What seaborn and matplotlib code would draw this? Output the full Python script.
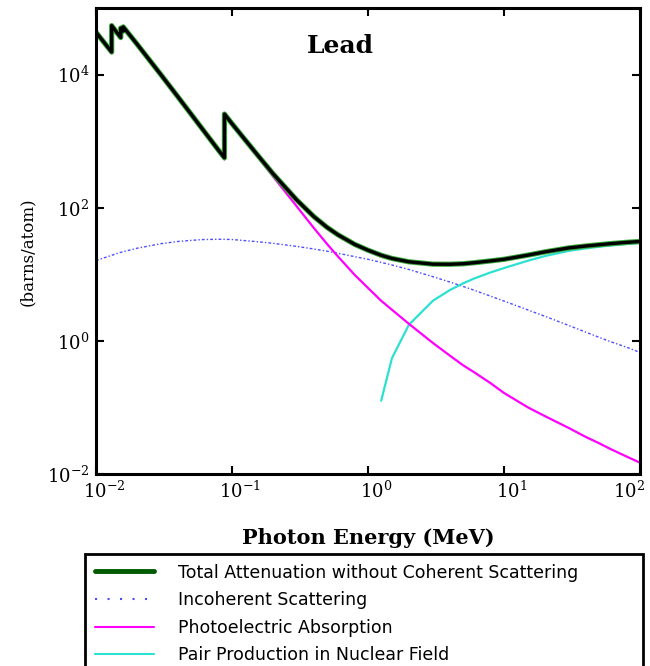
import matplotlib
matplotlib.use('Agg')
import matplotlib.pyplot as plt
import seaborn as sns
import pandas as pd
from matplotlib.lines import Line2D
from matplotlib.ticker import NullLocator
from matplotlib.transforms import ScaledTranslation

# ---------------- data (barns/atom vs photon energy in MeV) ----------------
energy_main = [0.010, 0.013035, 0.013035, 0.015, 0.0152, 0.0152, 0.01586, 0.01586,
               0.020, 0.030, 0.040, 0.050, 0.060, 0.080, 0.088, 0.088, 0.100, 0.150,
               0.200, 0.300, 0.400, 0.500, 0.600, 0.800, 1.0, 1.25, 1.5, 2.0, 3.0,
               4.0, 5.0, 6.0, 8.0, 10.0, 15.0, 20.0, 30.0, 40.0, 50.0, 60.0, 80.0, 100.0]
photoelectric = [4.30e4, 2.18e4, 5.44e4, 3.72e4, 3.60e4, 4.99e4, 4.51e4, 5.20e4,
                 2.88e4, 9.94e3, 4.61e3, 2.52e3, 1.53e3, 688, 530, 2.52e3, 1.80e3, 630,
                 296, 104, 49.5, 28.5, 18.6, 9.74, 6.23, 4.0, 2.93, 1.80, 0.93,
                 0.60, 0.43, 0.34, 0.23, 0.165, 0.100, 0.074, 0.049, 0.036, 0.029, 0.024, 0.0182, 0.0148]
total_no_coherent = [4.32e4, 2.18e4, 5.44e4, 3.72e4, 3.60e4, 4.99e4, 4.51e4, 5.20e4,
                     2.88e4, 9.97e3, 4.64e3, 2.55e3, 1.56e3, 721, 563, 2.55e3, 1.83e3, 661,
                     325, 130, 73.5, 50.7, 39.3, 28.1, 23.0, 19.3, 17.3, 15.4, 14.2,
                     14.15, 14.4, 14.9, 15.9, 16.8, 19.4, 21.7, 24.9, 26.6, 27.8, 28.8, 30.2, 31.1]

energy_incoh = [0.01, 0.015, 0.02, 0.03, 0.04, 0.05, 0.06, 0.08, 0.1, 0.15, 0.2, 0.3,
                0.4, 0.5, 0.6, 0.8, 1.0, 1.5, 2.0, 3.0, 4.0, 5.0, 6.0, 8.0, 10.0, 15.0,
                20.0, 30.0, 40.0, 50.0, 60.0, 80.0, 100.0]
incoherent = [16.1, 21.2, 24.6, 28.8, 31.1, 32.3, 33.2, 33.6, 33.3, 31.0, 29.2, 26.2,
              24.0, 22.2, 20.7, 18.4, 16.8, 13.8, 11.8, 9.2, 7.65, 6.57, 5.78, 4.68, 3.96, 2.91,
              2.34, 1.70, 1.35, 1.13, 0.98, 0.80, 0.67]

energy_pair = [1.25, 1.5, 2.0, 3.0, 4.0, 5.0, 6.0, 8.0, 10.0, 15.0, 20.0, 30.0, 40.0,
               50.0, 60.0, 80.0, 100.0]
pair_nuclear = [0.126, 0.55, 1.75, 4.0, 5.8, 7.3, 8.6, 10.7, 12.4, 16.0, 18.8, 22.5, 24.5,
                25.9, 27.0, 28.5, 29.5]

legend_labels = ["Total Attenuation without Coherent Scattering",
                 "Incoherent Scattering",
                 "Photoelectric Absorption",
                 "Pair Production in Nuclear Field"]

# ---------------- style ----------------
sns.set_style('ticks')
plt.rcParams['font.family'] = ['DejaVu Serif']
plt.rcParams['mathtext.fontset'] = 'dejavuserif'
plt.rcParams['text.color'] = 'black'
plt.rcParams['xtick.color'] = 'black'
plt.rcParams['ytick.color'] = 'black'

c_total = '#005a00'
c_incoh = '#4d4dff'
c_photo = '#ff00ff'
c_pair = '#2ce0d2'

fig = plt.figure(figsize=(6.5, 6.66), dpi=100)
ax = fig.add_axes([96/650, 1-474/666, 544/650, 466/666])

df_main = pd.DataFrame({'E': energy_main, 'photo': photoelectric, 'total': total_no_coherent})
df_inc = pd.DataFrame({'E': energy_incoh, 'sigma': incoherent})
df_pair = pd.DataFrame({'E': energy_pair, 'sigma': pair_nuclear})

sns.lineplot(data=df_inc, x='E', y='sigma', ax=ax, color=c_incoh, lw=1.0,
             linestyle=(0, (2, 1.5, 1, 1.5)), estimator=None, sort=False)
sns.lineplot(data=df_pair, x='E', y='sigma', ax=ax, color=c_pair, lw=1.6,
             estimator=None, sort=False)
sns.lineplot(data=df_main, x='E', y='photo', ax=ax, color=c_photo, lw=1.6,
             estimator=None, sort=False)
sns.lineplot(data=df_main, x='E', y='total', ax=ax, color='#3aa83a', lw=3.8,
             estimator=None, sort=False)
sns.lineplot(data=df_main, x='E', y='total', ax=ax, color='black', lw=2.4,
             estimator=None, sort=False)

ax.set_xscale('log')
ax.set_yscale('log')
ax.set_xlim(0.01, 100)
ax.set_ylim(0.01, 1e5)
ax.set_xticks([1e-2, 1e-1, 1, 10, 100])
ax.set_yticks([1e-2, 1, 1e2, 1e4])
ax.xaxis.set_minor_locator(NullLocator())
ax.yaxis.set_minor_locator(NullLocator())
ax.set_xlabel('')
ax.set_ylabel('')
ax.tick_params(which='major', direction='in', length=6, width=1.5, top=True, right=True,
               labelsize=13, pad=5, color='black', labelcolor='black')
for s in ax.spines.values():
    s.set_linewidth(2.2)
    s.set_color('black')
    s.set_visible(True)

xticks = ax.xaxis.get_major_ticks()
for i, t in enumerate(xticks):
    dx = 8 if i < len(xticks) - 1 else -11
    t.label1.set_transform(t.label1.get_transform() + ScaledTranslation(dx/100, 0, fig.dpi_scale_trans))

ax.text(0.45, 0.918, 'Lead', transform=ax.transAxes, ha='center', va='center',
        fontsize=18, fontweight='bold')
fig.text(368/650, 1-544/666, 'Photon Energy (MeV)', ha='center', va='baseline',
         fontsize=15, fontweight='bold')
fig.text(27/650, 1-252/666, '(barns/atom)', rotation=90, ha='center', va='center', fontsize=12)

handles = [Line2D([], [], color=c_total, lw=3.5),
           Line2D([], [], color=c_incoh, lw=1.5, linestyle=(0, (1, 5))),
           Line2D([], [], color=c_photo, lw=1.5),
           Line2D([], [], color=c_pair, lw=1.5)]
top = 1 - 554/666
leg = fig.legend(handles, legend_labels, loc='upper left',
                 bbox_to_anchor=(85/650, -0.4, 558/650, 0.4 + top), mode='expand',
                 borderaxespad=0, borderpad=0.55, handlelength=3.4, handletextpad=1.4,
                 labelspacing=0.55, frameon=True, fancybox=False, edgecolor='black',
                 framealpha=1, prop={'family': 'DejaVu Sans', 'size': 12.5})
leg.get_frame().set_linewidth(2)
for txt in leg.get_texts():
    txt.set_color('black')

fig.savefig('out.png', dpi=100)
